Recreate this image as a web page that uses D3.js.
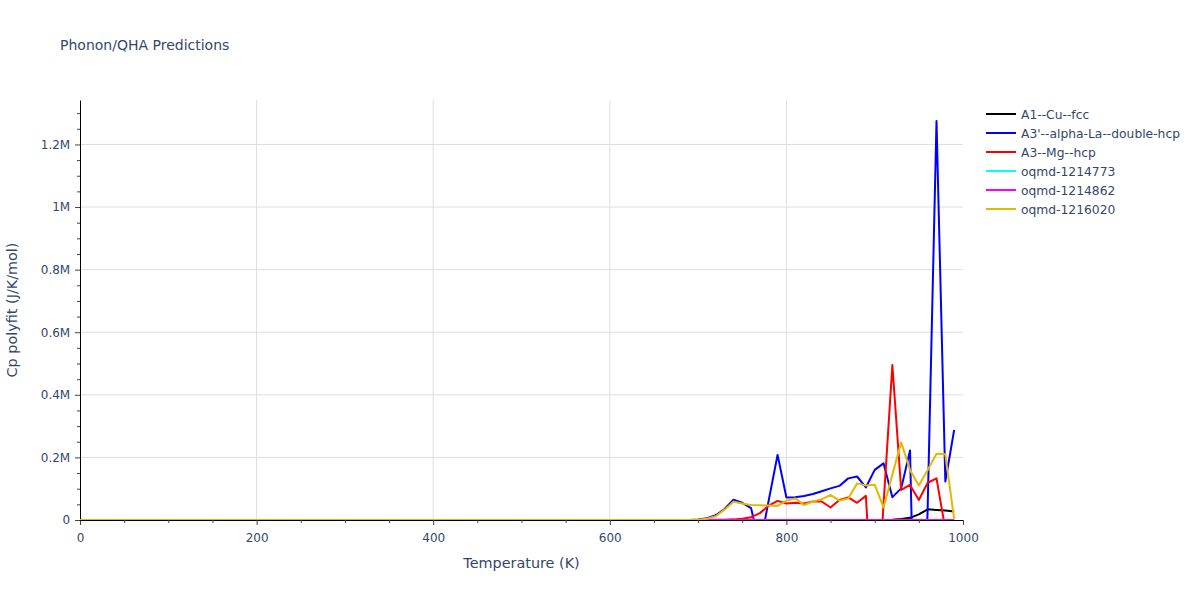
<!DOCTYPE html>
<html><head><meta charset="utf-8">
<script src="https://cdn.jsdelivr.net/npm/d3@7"></script>
<style>body{margin:0;background:#fff;} text{font-family:"DejaVu Sans",Verdana,sans-serif;}</style>
</head><body><svg id="chart" width="1200" height="600"></svg>
<script>
const temperatures = [0,10,20,30,40,50,60,70,80,90,100,110,120,130,140,150,160,170,180,190,200,210,220,230,240,250,260,270,280,290,300,310,320,330,340,350,360,370,380,390,400,410,420,430,440,450,460,470,480,490,500,510,520,530,540,550,560,570,580,590,600,610,620,630,640,650,660,670,680,690,700,710,720,730,740,750,760,770,780,790,800,810,820,830,840,850,860,870,880,890,900,910,920,930,940,950,960,970,980,990];
const lowZeros70 = [0,0,0,0,0,0,0,0,0,0,0,0,0,0,0,0,0,0,0,0,0,0,0,0,0,0,0,0,0,0,0,0,0,0,0,0,0,0,0,0,0,0,0,0,0,0,0,0,0,0,0,0,0,0,0,0,0,0,0,0,0,0,0,0,0,0,0,0,0,0];
// values for 700..990 K (J/K/mol)
const cuFcc = [0,0,0,0,0,0,0,0,0,0,0,0,0,0,0,0,0,0,0,0,0,0,1000,3000,7000,18000,34000,32000,30000,27000];
const laDhcp = [2000,6000,15000,35000,65000,55000,38000,-85000,63000,208000,72000,73000,77000,83000,92000,101000,109000,133000,139000,104000,160000,181000,73000,101000,222000,-1000000,40000,1275000,123000,288000];
const mgHcp = [0,0,500,1000,2000,4000,9000,22000,46000,61000,53000,55000,53000,59000,59000,40000,64000,72000,55000,77000,-420000,50000,495000,96000,112000,64000,119000,133000,-30000,-50000];
const oqmd1214773 = [0,0,0,0,0,0,0,0,0,0,0,0,0,0,0,0,0,0,0,0,0,0,0,0,0,0,0,0,0,0];
const oqmd1214862 = [0,0,0,0,0,0,0,0,0,0,0,0,0,0,0,0,0,0,0,0,0,0,0,0,0,0,0,0,0,0];
const oqmd1216020 = [1000,4000,12000,33000,58000,53000,48000,47000,46000,45000,62000,69000,48000,59000,66000,80000,62000,69000,117000,110000,113000,40000,145000,248000,160000,110000,160000,212000,210000,3000];
const seriesNames = ["A1--Cu--fcc","A3'--alpha-La--double-hcp","A3--Mg--hcp","oqmd-1214773","oqmd-1214862","oqmd-1216020"];
const seriesColors = ["#000000","#0000ff","#ff0000","#00ffff","#ff00ff","#e6b800"];
const seriesHigh = [cuFcc, laDhcp, mgHcp, oqmd1214773, oqmd1214862, oqmd1216020];
const xTicks = [0,200,400,600,800,1000];
const yTicks = [0,200000,400000,600000,800000,1000000,1200000];
const yTickLabels = ["0","0.2M","0.4M","0.6M","0.8M","1M","1.2M"];

const svg = d3.select("#chart");
const L=80, R=963, T=100, B=520;
const x = d3.scaleLinear().domain([0,1000]).range([L,R]);
const y = d3.scaleLinear().domain([0,1342000]).range([B,T]);
const fg = "#34476a";
const FF = "'DejaVu Sans',Verdana,sans-serif";

svg.append("defs").append("clipPath").attr("id","clip").append("rect")
  .attr("x",L).attr("y",T).attr("width",R-L).attr("height",B-T);

// grid
svg.append("g").selectAll("line").data(xTicks.filter(d=>d>0&&d<1000)).join("line")
  .attr("x1",d=>x(d)).attr("x2",d=>x(d)).attr("y1",T).attr("y2",B)
  .attr("stroke","#dedede").attr("stroke-width",1);
svg.append("g").selectAll("line").data(yTicks.filter(d=>d>0)).join("line")
  .attr("x1",L).attr("x2",R).attr("y1",d=>y(d)).attr("y2",d=>y(d))
  .attr("stroke","#dedede").attr("stroke-width",1);

// axes
const xAxis = svg.append("g").attr("transform",`translate(0,${B})`)
  .call(d3.axisBottom(x).tickValues(xTicks).tickSize(5).tickSizeOuter(0).tickFormat(d3.format("d")));
const xMinor = svg.append("g").attr("transform",`translate(0,${B})`)
  .call(d3.axisBottom(x).tickValues(d3.range(0,1001,50).filter(d=>d%200!==0)).tickSize(3).tickSizeOuter(0).tickFormat(""));
const yAxis = svg.append("g").attr("transform",`translate(${L},0)`)
  .call(d3.axisLeft(y).tickValues(yTicks).tickSize(5).tickSizeOuter(0).tickFormat((d,i)=>yTickLabels[i]));
const yMinor = svg.append("g").attr("transform",`translate(${L},0)`)
  .call(d3.axisLeft(y).tickValues(d3.range(0,1342001,50000).filter(d=>d%200000!==0)).tickSize(3).tickSizeOuter(0).tickFormat(""));
[xMinor,yMinor].forEach(g=>g.select(".domain").remove());
[xAxis,yAxis,xMinor,yMinor].forEach(g=>{
  g.selectAll(".domain").attr("stroke","#000").attr("stroke-width",1);
  g.selectAll(".tick line").attr("stroke","#444");
  g.selectAll("text").attr("fill",fg).style("font-size","12px").style("font-family",FF);
});
xAxis.selectAll("text").attr("dy","1.2em");
yAxis.selectAll("text").attr("dx","-0.15em");

// lines
const plot = svg.append("g").attr("clip-path","url(#clip)");
const line = d3.line().x(d=>x(d[0])).y(d=>y(d[1]));
seriesHigh.forEach((vals,i)=>{
  const all = lowZeros70.concat(vals);
  const pts = temperatures.map((t,j)=>[t,all[j]]);
  plot.append("path").datum(pts).attr("d",line).attr("fill","none")
    .attr("stroke",seriesColors[i]).attr("stroke-width",2).attr("stroke-linejoin","round");
});

// titles
svg.append("text").attr("x",60).attr("y",50).attr("fill",fg).style("font-size","14px").text("Phonon/QHA Predictions");
svg.append("text").attr("x",(L+R)/2).attr("y",568).attr("text-anchor","middle").attr("fill",fg).style("font-size","14.4px").text("Temperature (K)");
svg.append("text").attr("transform",`translate(17,${(T+B)/2}) rotate(-90)`).attr("text-anchor","middle").attr("fill",fg).style("font-size","14.4px").text("Cp polyfit (J/K/mol)");

// legend
const lg = svg.append("g").attr("transform","translate(986,114)");
seriesNames.forEach((n,i)=>{
  const g = lg.append("g").attr("transform",`translate(0,${i*19})`);
  g.append("line").attr("x1",0).attr("x2",30).attr("y1",0).attr("y2",0).attr("stroke",seriesColors[i]).attr("stroke-width",2);
  g.append("text").attr("x",35).attr("y",4.5).attr("fill",fg).style("font-size","12.3px").text(n);
});
</script></body></html>
